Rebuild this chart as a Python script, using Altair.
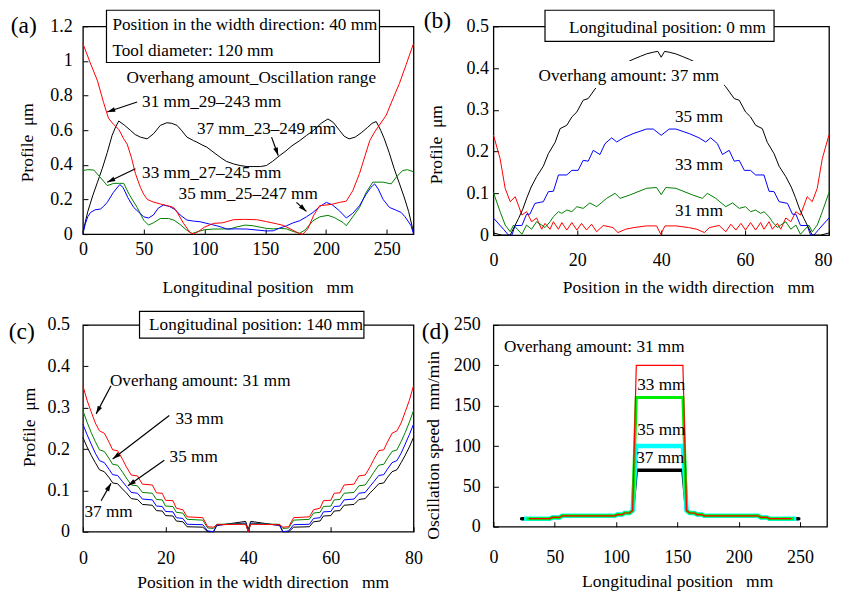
import altair as alt
import pandas as pd

FONT = "Liberation Serif"
ANN = 17.2
ARROW = "M0,0L-0.6,2L0.6,2Z"

# ---------------- Panel (a): profile along longitudinal position ----------------
a_red_x = [0, 6, 12, 17, 21, 25, 29.5, 33.6, 36.4, 40, 43.2, 47.3, 50, 53, 58, 63.7, 69, 74.6, 78, 83,
           88, 91, 95, 100, 107.4, 115, 123.8, 133, 143, 151, 159, 165, 172, 178, 181, 185, 190, 194.8,
           200, 205, 211, 216.7, 222, 227.6, 232, 236, 240, 244, 249.5, 255, 260.4, 266, 272]
a_red_y = [1.10, 0.99, 0.885, 0.76, 0.67, 0.635, 0.605, 0.55, 0.52, 0.44, 0.35, 0.27, 0.23, 0.2, 0.185,
           0.174, 0.165, 0.154, 0.12, 0.06, 0.01, 0.0, 0.015, 0.04, 0.062, 0.065, 0.083, 0.085, 0.083,
           0.072, 0.06, 0.05, 0.025, 0.003, 0.0, 0.03, 0.11, 0.164, 0.168, 0.172, 0.183, 0.19, 0.25,
           0.35, 0.45, 0.54, 0.59, 0.63, 0.686, 0.78, 0.87, 0.98, 1.1]
a_black_x = [0, 4, 8, 12, 16, 20, 24, 27, 29.5, 34, 39, 43, 47.3, 52.8, 58.2, 63.7, 69, 73, 77.4, 81,
             85.6, 91, 93.8, 98, 102, 107, 112.9, 118, 124, 129.3, 135, 140, 146, 151, 156, 162, 167,
             172, 178.4, 184, 190, 196, 201.6, 206, 211, 215, 219, 224, 229, 234, 238, 241.3, 245, 248,
             252, 256, 260, 264, 268, 272]
a_black_y = [0.01, 0.13, 0.22, 0.3, 0.38, 0.47, 0.57, 0.62, 0.653, 0.63, 0.6, 0.575, 0.56, 0.55, 0.58,
             0.628, 0.643, 0.64, 0.628, 0.6, 0.56, 0.54, 0.531, 0.515, 0.502, 0.475, 0.444, 0.42,
             0.405, 0.396, 0.39, 0.39, 0.39, 0.396, 0.42, 0.454, 0.48, 0.51, 0.54, 0.57, 0.6, 0.64,
             0.665, 0.645, 0.6, 0.565, 0.55, 0.56, 0.585, 0.615, 0.64, 0.65, 0.6, 0.55, 0.47, 0.38,
             0.3, 0.22, 0.13, 0.01]
a_green_x = [0, 4, 9, 14, 20, 25.4, 30, 33.6, 38, 44.6, 50, 54, 58, 63.7, 70.5, 75, 80, 85, 89.7, 95,
             100, 107.4, 121, 127, 133.4, 140, 145.7, 151, 156.6, 162, 167.5, 173, 178.4, 183, 189.3,
             195, 201.6, 207, 214, 216.7, 220, 227.6, 233, 238.5, 246.7, 253.6, 258, 263, 267, 272]
a_green_y = [0.367, 0.372, 0.37, 0.33, 0.28, 0.293, 0.293, 0.293, 0.23, 0.154, 0.08, 0.052, 0.065,
             0.09, 0.09, 0.08, 0.055, 0.025, 0.003, 0.015, 0.025, 0.029, 0.03, 0.042, 0.052, 0.048,
             0.04, 0.033, 0.03, 0.033, 0.03, 0.015, 0.005, 0.025, 0.077, 0.1, 0.108, 0.095, 0.067,
             0.048, 0.08, 0.154, 0.24, 0.3, 0.3, 0.29, 0.33, 0.367, 0.372, 0.36]
a_blue_x = [0, 2, 4, 6.3, 10, 14.5, 17, 20, 25, 30.3, 33, 37, 41.8, 47, 50, 54, 58, 62, 66.4, 71, 76,
            80, 85.6, 91, 96.5, 103, 110.2, 114, 118.4, 126, 134.8, 145, 151, 156.6, 162, 167.5, 173,
            178.4, 184, 189.3, 195, 200.3, 205, 211, 216.7, 222, 227.6, 233, 237, 240, 243, 247,
            252.2, 257, 261.8, 265, 268, 270, 272]
a_blue_y = [0.0, 0.06, 0.1, 0.125, 0.14, 0.145, 0.16, 0.183, 0.24, 0.286, 0.27, 0.21, 0.154, 0.12,
            0.1, 0.093, 0.11, 0.15, 0.168, 0.16, 0.141, 0.11, 0.081, 0.075, 0.071, 0.06, 0.048, 0.04,
            0.029, 0.03, 0.029, 0.022, 0.018, 0.019, 0.035, 0.048, 0.065, 0.077, 0.1, 0.125, 0.16,
            0.183, 0.17, 0.135, 0.093, 0.12, 0.164, 0.23, 0.27, 0.29, 0.26, 0.2, 0.154, 0.14, 0.125,
            0.1, 0.07, 0.048, 0.0]

a_box_lines = ["Position in the width direction: 40 mm", "Tool diameter: 120 mm"]
a_box_lines_x = [24.3, 24.3]
a_box_lines_y = [1.205, 1.055]
a_box = {"x": [19.4], "x2": [244], "y": [0.991], "y2": [1.293]}
a_notes = ["Overhang amount_Oscillation range", "31 mm_29–243 mm", "37 mm_23–249 mm",
           "33 mm_27–245 mm", "35 mm_25–247 mm"]
a_notes_x = [35.8, 48.7, 93.8, 48.7, 78.7]
a_notes_y = [0.899, 0.763, 0.609, 0.351, 0.232]
a_arrow_x = [44.6, 155.2, 43.2, 175.7]
a_arrow_y = [0.763, 0.56, 0.377, 0.183]
a_arrow_x2 = [20, 160.7, 20, 183.9]
a_arrow_y2 = [0.705, 0.454, 0.299, 0.131]
a_arrow_ang = [251.6, 160.2, 244.7, 132]

# ---------------- Panel (b): longitudinal position 0 mm ----------------
b_black_x = [0, 2, 4, 5, 6, 7, 8, 9, 10.3, 11.9, 13.1, 14.7, 15.9, 17.5, 18.7, 19.9, 21.4, 22.6, 24.6,
             26, 27.5, 29, 31, 33.3, 35, 36.5, 38.1, 39.2, 40, 40.8, 41.9, 43.5, 45, 46.7, 49, 51,
             52.5, 54, 55.4, 57.4, 58.6, 60.1, 61.3, 62.5, 64.1, 65.3, 66.9, 68.1, 69.7, 71, 72, 73,
             74, 75, 76, 78, 80]
b_black_y = [0.005, 0.0, 0.0, 0.02, 0.04, 0.062, 0.09, 0.115, 0.14, 0.165, 0.195, 0.222, 0.255, 0.263,
             0.283, 0.295, 0.323, 0.327, 0.355, 0.37, 0.385, 0.395, 0.41, 0.421, 0.428, 0.434, 0.438,
             0.44, 0.426, 0.44, 0.438, 0.434, 0.428, 0.421, 0.41, 0.395, 0.385, 0.37, 0.355, 0.327,
             0.323, 0.295, 0.283, 0.263, 0.255, 0.222, 0.195, 0.165, 0.14, 0.115, 0.09, 0.062, 0.04,
             0.02, 0.0, 0.0, 0.005]
b_blue_x = [0, 2.4, 3.6, 4.4, 5.2, 6.8, 7.9, 8.7, 9.9, 11.9, 13.1, 14.3, 15.5, 17.5, 18.7, 20.2, 21.4,
            22.6, 23.8, 25.4, 26.6, 28.2, 29.4, 31, 33.3, 36.5, 38.1, 40, 41.9, 43.5, 46.7, 49, 50.6,
            51.8, 53.4, 54.6, 56.2, 57.4, 58.6, 59.8, 61.3, 62.5, 64.5, 65.7, 66.9, 68.1, 70.1, 71.3,
            72.1, 73.2, 74.8, 75.6, 76.4, 77.6, 80]
b_blue_y = [0.041, 0.014, 0.0, 0.0, 0.023, 0.023, 0.05, 0.05, 0.076, 0.08, 0.104, 0.105, 0.144, 0.144,
            0.155, 0.155, 0.179, 0.177, 0.203, 0.193, 0.219, 0.233, 0.223, 0.233, 0.243, 0.254, 0.254,
            0.239, 0.254, 0.254, 0.243, 0.233, 0.223, 0.233, 0.219, 0.193, 0.203, 0.177, 0.179,
            0.155, 0.155, 0.144, 0.144, 0.105, 0.104, 0.08, 0.076, 0.05, 0.05, 0.023, 0.023, 0.0,
            0.0, 0.014, 0.041]
b_green_x = [0, 1.6, 2.8, 4, 4.8, 6.8, 7.9, 9.1, 10.3, 11.5, 12.3, 13.5, 14.3, 15.5, 16.3, 17.5, 18.7,
             19.9, 21.4, 23, 24.6, 27, 29, 30.2, 32.5, 36.5, 38.9, 40, 41.1, 43.5, 47.5, 49.8, 51, 53,
             55.4, 57, 58.6, 60.1, 61.3, 62.5, 63.7, 64.5, 65.7, 66.5, 67.7, 68.5, 69.7, 70.9, 72.1,
             73.2, 75.2, 76, 77.2, 78.4, 80]
b_green_y = [0.102, 0.056, 0.024, 0.008, 0.024, 0.002, 0.024, 0.014, 0.032, 0.024, 0.018, 0.032,
             0.044, 0.056, 0.052, 0.06, 0.056, 0.068, 0.064, 0.077, 0.068, 0.088, 0.1, 0.088, 0.096,
             0.112, 0.114, 0.097, 0.114, 0.112, 0.096, 0.088, 0.1, 0.088, 0.068, 0.077, 0.064, 0.068,
             0.056, 0.06, 0.052, 0.056, 0.044, 0.032, 0.018, 0.024, 0.032, 0.014, 0.024, 0.002,
             0.024, 0.008, 0.024, 0.056, 0.102]
b_red_x = [0, 1.6, 2.8, 4, 5.2, 6, 6.8, 7.9, 9.1, 10.3, 11.5, 12.3, 13.5, 14.3, 15.5, 16.3, 17.5, 18.7,
           19.9, 21, 22.2, 23.4, 24.6, 26.2, 28.5, 29.7, 31.5, 33.5, 36.5, 38.9, 39.9, 40.9, 43.5,
           46.5, 48.5, 50.3, 51.5, 53.8, 55.4, 56.6, 57.8, 59, 60.1, 61.3, 62.5, 63.7, 64.5, 65.7,
           66.5, 67.7, 68.5, 69.7, 70.9, 72.1, 73.2, 74, 74.8, 76, 77.2, 78.4, 80]
b_red_y = [0.24, 0.183, 0.112, 0.08, 0.092, 0.07, 0.048, 0.056, 0.032, 0.041, 0.014, 0.028, 0.014,
           0.032, 0.014, 0.03, 0.012, 0.03, 0.012, 0.028, 0.012, 0.026, 0.008, 0.023, 0.018, 0.006,
           0.014, 0.018, 0.022, 0.022, 0.002, 0.022, 0.022, 0.018, 0.014, 0.006, 0.018, 0.023, 0.008,
           0.026, 0.012, 0.028, 0.012, 0.03, 0.012, 0.03, 0.014, 0.032, 0.014, 0.028, 0.014, 0.041,
           0.032, 0.056, 0.048, 0.07, 0.092, 0.08, 0.112, 0.183, 0.24]

b_box = {"x": [12.3], "x2": [66.9], "y": [0.464], "y2": [0.5385]}
b_box_text = ["Longitudinal position: 0 mm"]
b_box_text_x = [41.5]
b_box_text_y = [0.496]
b_blank = {"x": [10], "x2": [55], "y": [0.352], "y2": [0.417]}
b_notes = ["Overhang amount: 37 mm", "35 mm", "33 mm", "31 mm"]
b_notes_x = [32.3, 49, 49, 49]
b_notes_y = [0.381, 0.283, 0.167, 0.058]

# ---------------- Panel (c): longitudinal position 140 mm ----------------
c_x = [0, 1, 2, 3, 4, 5.2, 6.4, 7.2, 8.4, 9.6, 10.5, 11.7, 13.2, 14.4, 16.8, 17.8, 19.2, 20, 21.8,
       22.6, 24.2, 25.2, 29, 30.2, 31.6, 32.4, 39.4, 40, 40.6, 47.6, 48.4, 49.8, 51, 54.8, 55.8, 57.4,
       58.2, 60, 60.8, 62.2, 63.2, 65.6, 66.8, 68.3, 69.5, 70.4, 71.6, 72.8, 73.6, 74.8, 76, 77, 78,
       79, 80]
c_red_y = [0.353, 0.318, 0.29, 0.263, 0.244, 0.238, 0.215, 0.198, 0.196, 0.175, 0.157, 0.137, 0.135,
           0.115, 0.113, 0.094, 0.093, 0.076, 0.075, 0.057, 0.053, 0.036, 0.034, 0.012, 0.011, 0.017,
           0.018, 0.0, 0.018, 0.017, 0.011, 0.012, 0.034, 0.036, 0.053, 0.057, 0.075, 0.076, 0.093,
           0.094, 0.113, 0.115, 0.135, 0.137, 0.157, 0.175, 0.196, 0.198, 0.215, 0.238, 0.244, 0.263,
           0.29, 0.318, 0.353]
c_green_y = [0.293, 0.265, 0.24, 0.218, 0.198, 0.194, 0.176, 0.163, 0.161, 0.144, 0.13, 0.113, 0.111,
             0.095, 0.093, 0.078, 0.077, 0.062, 0.061, 0.047, 0.045, 0.03, 0.028, 0.009, 0.008, 0.018,
             0.019, 0.002, 0.019, 0.018, 0.008, 0.009, 0.028, 0.03, 0.045, 0.047, 0.061, 0.062, 0.077,
             0.078, 0.093, 0.095, 0.111, 0.113, 0.13, 0.144, 0.161, 0.163, 0.176, 0.194, 0.198, 0.218,
             0.24, 0.265, 0.293]
c_blue_y = [0.26, 0.235, 0.212, 0.19, 0.172, 0.167, 0.15, 0.138, 0.136, 0.121, 0.11, 0.095, 0.093,
            0.079, 0.077, 0.062, 0.061, 0.049, 0.048, 0.034, 0.032, 0.018, 0.017, 0.002, 0.0, 0.016,
            0.021, 0.0, 0.021, 0.016, 0.0, 0.002, 0.017, 0.018, 0.032, 0.034, 0.048, 0.049, 0.061,
            0.062, 0.077, 0.079, 0.093, 0.095, 0.11, 0.121, 0.136, 0.138, 0.15, 0.167, 0.172, 0.19,
            0.212, 0.235, 0.26]
c_black_y = [0.228, 0.205, 0.185, 0.167, 0.15, 0.145, 0.13, 0.118, 0.116, 0.103, 0.094, 0.08, 0.078,
             0.066, 0.064, 0.051, 0.05, 0.039, 0.038, 0.026, 0.024, 0.012, 0.011, 0.0, 0.0, 0.015,
             0.025, 0.005, 0.025, 0.015, 0.0, 0.0, 0.011, 0.012, 0.024, 0.026, 0.038, 0.039, 0.05,
             0.051, 0.064, 0.066, 0.078, 0.08, 0.094, 0.103, 0.116, 0.118, 0.13, 0.145, 0.15, 0.167,
             0.185, 0.205, 0.228]

c_box = {"x": [13.7], "x2": [68], "y": [0.468], "y2": [0.533]}
c_box_text = ["Longitudinal position: 140 mm"]
c_box_text_x = [41.9]
c_box_text_y = [0.5]
c_notes = ["Overhang amount: 31 mm", "33 mm", "35 mm", "37 mm"]
c_notes_x = [28.4, 28.2, 26.8, 6.2]
c_notes_y = [0.365, 0.273, 0.18, 0.047]
c_arrow_x = [6.8, 20.9, 19.7, 4.4]
c_arrow_y = [0.353, 0.281, 0.173, 0.075]
c_arrow_x2 = [3.2, 7.2, 10.9, 6.8]
c_arrow_y2 = [0.285, 0.176, 0.111, 0.117]
c_arrow_ang = [208, 232.6, 235, 30]

# ---------------- Panel (d): oscillation speed ----------------
d_mid_x = [46, 48, 54, 56, 99, 101, 105, 107, 111, 113.5, 116.5, 154.5, 157.5, 160, 164, 166, 170,
           172, 216, 218, 223, 225]
d_red_x = [29] + d_mid_x + [243]
d_green_x = [27] + d_mid_x + [245]
d_cyan_x = [25] + d_mid_x + [247]
d_black_x = [23] + d_mid_x + [249]
d_red_y = [10, 10, 11.5, 11.5, 13.5, 13.5, 15, 15, 17, 17, 20, 200, 200, 20, 17, 17, 15, 15, 13.5,
           13.5, 11.5, 11.5, 10, 10]
d_green_y = [10, 10, 11.5, 11.5, 13.5, 13.5, 15, 15, 17, 17, 20, 160, 160, 20, 17, 17, 15, 15, 13.5,
             13.5, 11.5, 11.5, 10, 10]
d_cyan_y = [10, 10, 11.5, 11.5, 13.5, 13.5, 15, 15, 17, 17, 20, 100, 100, 20, 17, 17, 15, 15, 13.5,
            13.5, 11.5, 11.5, 10, 10]
d_black_y = [10, 10, 11.5, 11.5, 13.5, 13.5, 15, 15, 17, 17, 20, 70, 70, 20, 17, 17, 15, 15, 13.5,
             13.5, 11.5, 11.5, 10, 10]
d_notes = ["Overhang amount: 31 mm", "33 mm", "35 mm", "37 mm"]
d_notes_x = [8.6, 117.3, 117.3, 116.5]
d_notes_y = [223.3, 175, 119.7, 84.7]

letters = ["(a)", "(b)", "(c)", "(d)"]
letters_x = [-59.4, -16.6, -17.95, -58.5]
letters_y = [1.2, 0.512, 0.484, 241]


# ---------------- helpers ----------------
def x_enc(domain, ticks, lpad, title, tx, ty, last_shift=0):
    sc = alt.Scale(domain=domain, nice=False, zero=False)
    extra = {}
    if last_shift:
        extra["labelOffset"] = {"condition": {"test": "datum.value == %s" % ticks[-1], "value": last_shift},
                                "value": 0}
    ax = alt.Axis(values=ticks, format="~r", offset=-5, tickSize=5, tickWidth=1, labelPadding=lpad,
                  title=title, titleX=tx, titleY=ty, titleBaseline="middle", titleAlign="center",
                  labelFlush=False, labelOverlap=False, domain=False, grid=False, **extra)
    return lambda f: alt.X(f, type="quantitative", scale=sc, axis=ax)


def y_enc(domain, ticks, lpad, title, tx, ty):
    sc = alt.Scale(domain=domain, nice=False, zero=False)
    ax = alt.Axis(values=ticks, format="~r", offset=-5, tickSize=5, tickWidth=1, labelPadding=lpad,
                  title=title, titleX=tx, titleY=ty, titleBaseline="middle", titleAlign="center",
                  labelOverlap=False, domain=False, grid=False)
    return lambda f: alt.Y(f, type="quantitative", scale=sc, axis=ax)


def line(xs, ys, color, width, X, Y, cap="butt"):
    df = pd.DataFrame({"x": xs, "y": ys, "i": list(range(len(xs)))})
    return alt.Chart(df).mark_line(color=color, strokeWidth=width, strokeCap=cap,
                                   strokeJoin="miter").encode(x=X("x"), y=Y("y"), order="i:Q")


def texts(t, xs, ys, X, Y, align="left", size=ANN):
    df = pd.DataFrame({"t": t, "x": xs, "y": ys})
    return alt.Chart(df).mark_text(align=align, baseline="middle", font=FONT, fontSize=size,
                                   color="black").encode(x=X("x"), y=Y("y"), text="t:N")


def rect(box, X, Y, stroke=True):
    df = pd.DataFrame(box)
    kw = dict(fill="white", stroke="black", strokeWidth=1.2) if stroke else dict(fill="white", strokeWidth=0)
    return alt.Chart(df).mark_rect(**kw).encode(x=X("x"), x2=alt.X2("x2"), y=Y("y"), y2=alt.Y2("y2"))


def arrows(x, y, x2, y2, ang, X, Y):
    df = pd.DataFrame({"x": x, "y": y, "x2": x2, "y2": y2, "ang": ang})
    shaft = alt.Chart(df).mark_rule(color="black", strokeWidth=1.2).encode(
        x=X("x"), y=Y("y"), x2=alt.X2("x2"), y2=alt.Y2("y2"))
    head = alt.Chart(df).mark_point(shape=ARROW, filled=True, color="black", size=64, opacity=1,
                                    strokeWidth=0).encode(
        x=X("x2"), y=Y("y2"), angle=alt.Angle("ang:Q", scale=None))
    return [shaft, head]


NB = "\u00a0"
RED, BLUE, GREEN, BLACK = "#ff0000", "#0000ff", "#008000", "#000000"
LETTER = 23.5

# ---------------- build panel (a) ----------------
XA = x_enc([0, 272], [0, 50, 100, 150, 200, 250], 6.7, "Longitudinal position" + NB * 3 + "mm", 175, 58)
YA = y_enc([0, 1.2], [0, 0.2, 0.4, 0.6, 0.8, 1.0, 1.2], 10.6, "Profile" + NB * 2 + "μm", -60.6, 116)
pa = alt.layer(
    line(a_black_x, a_black_y, BLACK, 1, XA, YA),
    line(a_green_x, a_green_y, GREEN, 1, XA, YA),
    line(a_blue_x, a_blue_y, BLUE, 1, XA, YA),
    line(a_red_x, a_red_y, RED, 1, XA, YA),
    rect(a_box, XA, YA),
    texts(a_box_lines, a_box_lines_x, a_box_lines_y, XA, YA),
    texts(a_notes, a_notes_x, a_notes_y, XA, YA),
    *arrows(a_arrow_x, a_arrow_y, a_arrow_x2, a_arrow_y2, a_arrow_ang, XA, YA),
    texts([letters[0]], [letters_x[0]], [letters_y[0]], XA, YA, size=LETTER),
).properties(width=331, height=208)

# ---------------- build panel (b) ----------------
XB = x_enc([0, 80], [0, 20, 40, 60, 80], 16.7, "Position in the width direction" + NB * 3 + "mm", 195, 57,
           last_shift=-6)
YB = y_enc([0, 0.5], [0, 0.1, 0.2, 0.3, 0.4, 0.5], 5, "Profile" + NB * 2 + "μm", -61.6, 118)
pb = alt.layer(
    line(b_red_x, b_red_y, RED, 1, XB, YB),
    line(b_green_x, b_green_y, GREEN, 1, XB, YB),
    line(b_blue_x, b_blue_y, BLUE, 1, XB, YB),
    line(b_black_x, b_black_y, BLACK, 1, XB, YB),
    rect(b_blank, XB, YB, stroke=False),
    rect(b_box, XB, YB),
    texts(b_box_text, b_box_text_x, b_box_text_y, XB, YB, align="center"),
    texts(b_notes, b_notes_x, b_notes_y, XB, YB, align="center"),
    texts([letters[1]], [letters_x[1]], [letters_y[1]], XB, YB, size=LETTER),
).properties(width=336, height=209)

# ---------------- build panel (c) ----------------
XC = x_enc([0, 80], [0, 20, 40, 60, 80], 17.4, "Position in the width direction" + NB * 3 + "mm", 180, 56)
YC = y_enc([0, 0.5], [0, 0.1, 0.2, 0.3, 0.4, 0.5], 13.4, "Profile" + NB * 2 + "μm", -58.4, 102)
pc = alt.layer(
    line(c_x, c_black_y, BLACK, 1, XC, YC),
    line(c_x, c_blue_y, BLUE, 1, XC, YC),
    line(c_x, c_green_y, GREEN, 1, XC, YC),
    line(c_x, c_red_y, RED, 1, XC, YC),
    rect(c_box, XC, YC),
    texts(c_box_text, c_box_text_x, c_box_text_y, XC, YC, align="center"),
    texts(c_notes, c_notes_x, c_notes_y, XC, YC, align="center"),
    *arrows(c_arrow_x, c_arrow_y, c_arrow_x2, c_arrow_y2, c_arrow_ang, XC, YC),
    texts([letters[2]], [letters_x[2]], [letters_y[2]], XC, YC, size=LETTER),
).properties(width=331, height=207)

# ---------------- build panel (d) ----------------
XD = x_enc([0, 272], [0, 50, 100, 150, 200, 250], 21.4, "Longitudinal position" + NB * 3 + "mm", 184, 60)
YD = y_enc([0, 250], [0, 50, 100, 150, 200, 250], 13.3, "Oscillation speed" + NB * 2 + "mm/min", -64.5, 120)
pd_ = alt.layer(
    line(d_black_x, d_black_y, BLACK, 3.5, XD, YD, cap="round"),
    line(d_cyan_x, d_cyan_y, "#00ffff", 4.5, XD, YD),
    line(d_green_x, d_green_y, "#00ee00", 3, XD, YD),
    line(d_red_x, d_red_y, RED, 1.2, XD, YD),
    texts(d_notes, d_notes_x, d_notes_y, XD, YD),
    texts([letters[3]], [letters_x[3]], [letters_y[3]], XD, YD, size=LETTER),
).properties(width=334, height=202)

chart = alt.concat(
    pa, pb, pc, pd_, columns=2, spacing={"row": 90, "column": 80}, bounds="flush", align="each"
).properties(
    padding=0, background="white"
).configure_view(
    stroke="black", strokeWidth=1.3
).configure_axis(
    labelFont=FONT, titleFont=FONT, labelFontSize=18, titleFontSize=17.5, titleFontWeight="normal",
    labelColor="black", titleColor="black", tickColor="black"
)

chart.save("out.html", embed_options={"renderer": "svg", "actions": False})
